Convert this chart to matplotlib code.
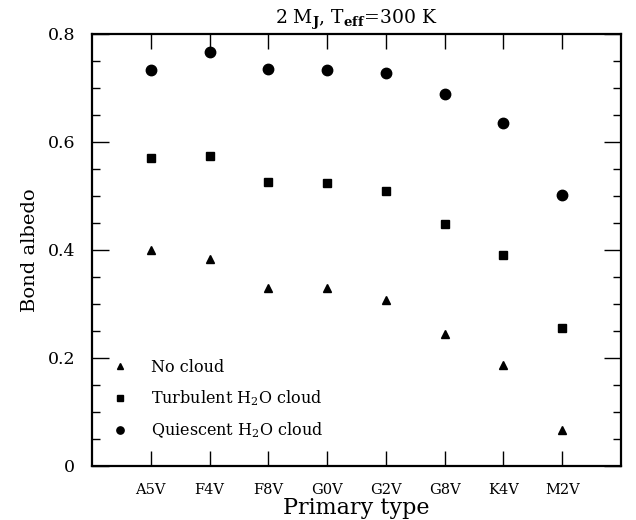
import matplotlib
matplotlib.use('Agg')
import matplotlib.pyplot as plt
import numpy as np

# spectral types of the primary star
types = ['A5V', 'F4V', 'F8V', 'G0V', 'G2V', 'G8V', 'K4V', 'M2V']

# Bond albedo for each cloud case
no_cloud = [0.400, 0.383, 0.330, 0.329, 0.307, 0.244, 0.187, 0.067]
turbulent = [0.570, 0.574, 0.526, 0.524, 0.509, 0.449, 0.391, 0.256]
quiescent = [0.734, 0.767, 0.735, 0.733, 0.728, 0.689, 0.635, 0.501]

plt.rcParams['font.family'] = 'DejaVu Serif'
plt.rcParams['mathtext.fontset'] = 'dejavuserif'

fig = plt.figure(figsize=(6.36, 5.20), dpi=100)
ax = fig.add_axes([92/636, 1 - 466/520, 529/636, 432/520])

x = np.arange(len(types))
ax.plot(x, no_cloud, '^', color='black', markersize=6, linestyle='none', label='No cloud')
ax.plot(x, turbulent, 's', color='black', markersize=6, linestyle='none', label=r'Turbulent H$_2$O cloud')
ax.plot(x, quiescent, 'o', color='black', markersize=7.5, linestyle='none', label=r'Quiescent H$_2$O cloud')

ax.set_xlim(-1, 8)
ax.set_ylim(0, 0.8)
ax.set_xticks(x)
ax.set_xticklabels(types, fontsize=10.5)
ax.set_yticks([0, 0.2, 0.4, 0.6, 0.8])
ax.set_yticklabels(['0', '0.2', '0.4', '0.6', '0.8'], fontsize=12.5)
ax.set_yticks(np.arange(0, 0.801, 0.05), minor=True)

ax.tick_params(axis='x', which='major', direction='in', top=True, length=11, width=1, pad=12)
ax.tick_params(axis='y', which='major', direction='in', right=True, length=12, width=1, pad=12)
ax.tick_params(axis='y', which='minor', direction='in', right=True, length=6, width=1)
for s in ax.spines.values():
    s.set_linewidth(1.6)

ax.set_xlabel('Primary type', fontsize=16, labelpad=0)
ax.set_ylabel('Bond albedo', fontsize=14, labelpad=6)
ax.set_title(r'2 M$_\mathbf{J}$, T$_\mathbf{eff}$=300 K', fontsize=13.5, pad=7)

ax.legend(loc='lower left', bbox_to_anchor=(0.04, 0.06), frameon=False, fontsize=11.5,
          markerscale=0.7, handlelength=0.9, handletextpad=1.5, labelspacing=0.78,
          borderpad=0, borderaxespad=0)

fig.savefig('out.png', dpi=100)
